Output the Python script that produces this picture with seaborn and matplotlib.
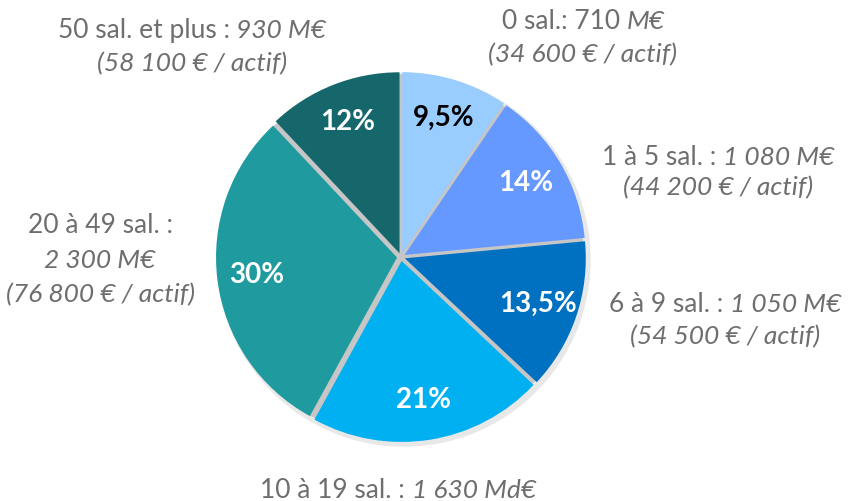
import matplotlib
matplotlib.use("Agg")
import matplotlib.pyplot as plt
import matplotlib.patches as mpatches
import seaborn as sns

# ---- data ----
categories = ["0 sal.", "1 à 5 sal.", "6 à 9 sal.", "10 à 19 sal.", "20 à 49 sal.", "50 sal. et plus"]
shares = [9.5, 14, 13.5, 21, 30, 12]
pct_labels = ["9,5%", "14%", "13,5%", "21%", "30%", "12%"]
amounts = ["710 M€", "1 080 M€", "1 050 M€", "1 630 Md€", "2 300 M€", "930 M€"]
per_actif = ["(34 600 € / actif)", "(44 200 € / actif)", "(54 500 € / actif)", "",
             "(76 800 € / actif)", "(58 100 € / actif)"]
colors = ["#99CCFF", "#6699FF", "#0070C0", "#00B0F0", "#1F9B9F", "#15676B"]
pct_colors = ["black", "white", "white", "white", "white", "white"]

sns.set_theme(style="white")
plt.rcParams["font.family"] = ["Lato", "DejaVu Sans"]

W, H = 848, 501
fig = plt.figure(figsize=(W / 100, H / 100), dpi=100)
ax = fig.add_axes([0, 0, 1, 1])

cx, cy, R = 401, H - 257, 181
# soft shadow + grey underlay visible in the gaps
ax.add_patch(mpatches.Circle((cx + 3, cy - 3), R + 5, color="#E8E8E8", zorder=0))
ax.add_patch(mpatches.Circle((cx, cy), R + 1, color="#C6C6C6", zorder=0))

wedges, texts = ax.pie(
    shares, colors=colors, startangle=90, counterclock=False,
    center=(cx, cy), radius=R, explode=[4.0] * len(shares),
    labels=pct_labels, labeldistance=0.78,
    wedgeprops=dict(linewidth=0),
    textprops=dict(fontsize=20, fontweight="bold"),
    frame=True,
)
ax.set_xlim(0, W)
ax.set_ylim(0, H)
ax.axis("off")
for t, c in zip(texts, pct_colors):
    t.set_color(c)
    t.set_ha("center")
    t.set_va("center")

grey = "#6E6E6E"
fs = 19
renderer = fig.canvas.get_renderer()


def mixed(x, y, normal, italic):
    """Draw 'normal' + 'italic' centered at (x, y) in pixel coords (y from top)."""
    yy = H - y
    t1 = ax.text(0, yy, normal, fontsize=fs, color=grey, ha="left", va="center")
    t2 = ax.text(0, yy, italic, fontsize=fs, color=grey, style="italic", ha="left", va="center")
    w1 = t1.get_window_extent(renderer).width
    w2 = t2.get_window_extent(renderer).width
    x0 = x - (w1 + w2) / 2
    t1.set_x(x0)
    t2.set_x(x0 + w1)


def it(x, y, s):
    ax.text(x, H - y, s, fontsize=fs, color=grey, style="italic", ha="center", va="center")


def nm(x, y, s):
    ax.text(x, H - y, s, fontsize=fs, color=grey, ha="center", va="center")


# 0 sal.
mixed(583, 21, categories[0] + ": " + amounts[0].split(" ")[0] + " ", amounts[0].split(" ")[1])
it(583, 55, per_actif[0])
# 1 à 5
mixed(718, 157, categories[1] + " : ", amounts[1])
it(718, 188, per_actif[1])
# 6 à 9
mixed(725, 305, categories[2] + " : ", amounts[2])
it(725, 337, per_actif[2])
# 10 à 19
mixed(398, 490, categories[3] + " : ", amounts[3])
# 20 à 49
nm(100, 225, categories[4] + " :")
it(100, 260, amounts[4])
it(100, 295, per_actif[4])
# 50 et plus
mixed(192, 30, categories[5] + " : ", amounts[5])
it(192, 64, per_actif[5])

fig.savefig("out.png", dpi=100)
